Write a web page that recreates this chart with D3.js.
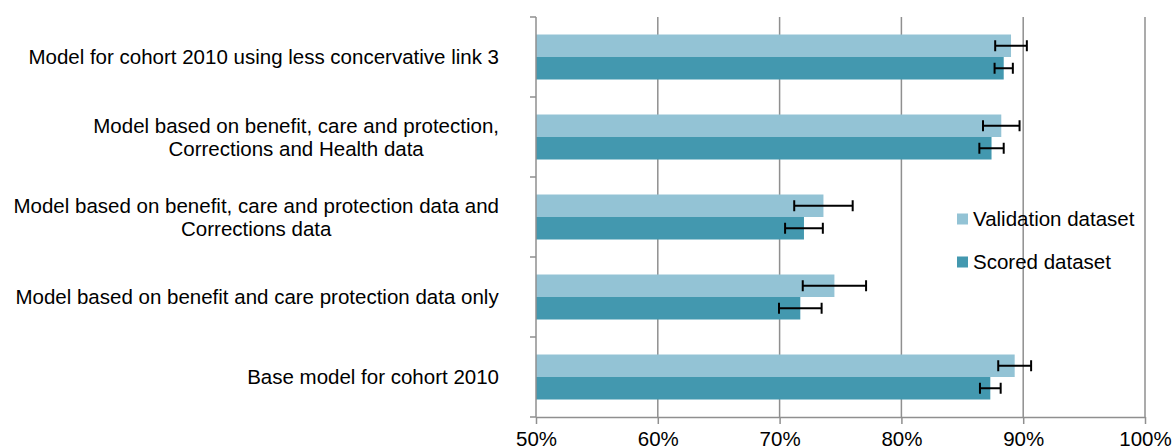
<!DOCTYPE html>
<html>
<head>
<meta charset="utf-8">
<script src="https://cdn.jsdelivr.net/npm/d3@7"></script>
<style>
  html, body { margin: 0; padding: 0; background: #fff; }
  svg { display: block; font-family: "Liberation Sans", Arial, sans-serif; }
</style>
</head>
<body>
<svg id="chart" width="1174" height="448"></svg>
<script>
// ---- data ----
const categories = [
  ["Model for cohort 2010 using less concervative link 3"],
  ["Model based on benefit, care and protection,", "Corrections and Health data"],
  ["Model based on benefit, care and protection data and", "Corrections data"],
  ["Model based on benefit and care protection data only"],
  ["Base model for cohort 2010"]
];
const seriesNames = ["Validation dataset", "Scored dataset"];
const validationValues = [89.0, 88.2, 73.6, 74.5, 89.3];
const validationErrors = [1.3, 1.5, 2.4, 2.6, 1.35];
const scoredValues = [88.4, 87.4, 72.0, 71.7, 87.3];
const scoredErrors = [0.75, 1.0, 1.55, 1.75, 0.85];
const xTicks = [50, 60, 70, 80, 90, 100];
const xTickLabels = ["50%", "60%", "70%", "80%", "90%", "100%"];

const colors = ["#93c3d5", "#4398af"];
const gridColor = "#8f8f8f";
const fontSize = 20.5;

const svg = d3.select("#chart");
const margin = { left: 536, right: 29, top: 17, bottom: 31 };
const W = 1174, H = 448;

const x = d3.scaleLinear().domain([50, 100]).range([margin.left, W - margin.right]);
const y = d3.scaleBand().domain(d3.range(categories.length))
  .range([margin.top, H - margin.bottom])
  .paddingInner(0.4375).paddingOuter(0.21875);
const ySub = d3.scaleBand().domain([0, 1]).range([0, y.bandwidth()]);

// gridlines
svg.append("g").selectAll("line").data(xTicks.slice(1)).join("line")
  .attr("x1", d => x(d)).attr("x2", d => x(d))
  .attr("y1", margin.top).attr("y2", H - margin.bottom)
  .attr("stroke", gridColor).attr("stroke-width", 1.5);

const rows = categories.map((c, i) => ({
  i,
  vals: [
    { s: 0, v: validationValues[i], e: validationErrors[i] },
    { s: 1, v: scoredValues[i], e: scoredErrors[i] }
  ]
}));

const g = svg.append("g");
const rowG = g.selectAll("g.row").data(rows).join("g")
  .attr("transform", d => `translate(0,${y(d.i)})`);

rowG.selectAll("rect").data(d => d.vals).join("rect")
  .attr("x", x(50))
  .attr("y", d => ySub(d.s))
  .attr("width", d => x(d.v) - x(50))
  .attr("height", ySub.bandwidth())
  .attr("fill", d => colors[d.s]);

// error bars
const eb = rowG.selectAll("g.err").data(d => d.vals).join("g").attr("class", "err");
eb.append("line")
  .attr("x1", d => x(d.v - d.e)).attr("x2", d => x(d.v + d.e))
  .attr("y1", d => ySub(d.s) + ySub.bandwidth() / 2)
  .attr("y2", d => ySub(d.s) + ySub.bandwidth() / 2)
  .attr("stroke", "#000").attr("stroke-width", 2);
[-1, 1].forEach(sign => {
  eb.append("line")
    .attr("x1", d => x(d.v + sign * d.e)).attr("x2", d => x(d.v + sign * d.e))
    .attr("y1", d => ySub(d.s) + ySub.bandwidth() / 2 - 5.5)
    .attr("y2", d => ySub(d.s) + ySub.bandwidth() / 2 + 5.5)
    .attr("stroke", "#000").attr("stroke-width", 2);
});

// x axis
const xAxis = d3.axisBottom(x).tickValues(xTicks)
  .tickFormat((d, i) => xTickLabels[i]).tickSize(7).tickSizeOuter(0).tickPadding(0);
const xg = svg.append("g").attr("transform", `translate(0,${H - margin.bottom})`).call(xAxis);
xg.select(".domain").attr("stroke", gridColor).attr("stroke-width", 1.5);
xg.selectAll(".tick line").attr("stroke", gridColor).attr("stroke-width", 1.5);
xg.selectAll(".tick text").attr("fill", "#000").attr("font-size", fontSize)
  .attr("font-family", "Liberation Sans, Arial, sans-serif")
  .attr("y", 28.5).attr("dy", 0);

// y axis line and ticks at category boundaries
svg.append("line")
  .attr("x1", x(50)).attr("x2", x(50))
  .attr("y1", margin.top).attr("y2", H - margin.bottom)
  .attr("stroke", gridColor).attr("stroke-width", 1.5);
const step = y.step();
const bounds = d3.range(categories.length + 1).map(i => y(0) - y.paddingInner() * step / 2 + i * step);
svg.append("g").selectAll("line").data(bounds).join("line")
  .attr("x1", x(50) - 6).attr("x2", x(50))
  .attr("y1", d => d).attr("y2", d => d)
  .attr("stroke", gridColor).attr("stroke-width", 1.5);

// category labels (center-aligned block, right edge fixed)
const labelRight = 499;
const lineH = 23;
categories.forEach((lines, i) => {
  const cy = y(i) + y.bandwidth() / 2;
  const t = svg.append("text")
    .attr("font-size", fontSize).attr("fill", "#000")
    .attr("text-anchor", "middle");
  lines.forEach((ln, j) => {
    t.append("tspan").attr("x", 0)
      .attr("y", cy + (j - (lines.length - 1) / 2) * lineH)
      .attr("dy", "0.35em").text(ln);
  });
  const bb = t.node().getBBox();
  t.attr("transform", `translate(${labelRight - bb.width / 2},0)`);
});

// legend
const legend = svg.append("g").attr("transform", "translate(957,219)");
seriesNames.forEach((name, i) => {
  const lg = legend.append("g").attr("transform", `translate(0,${i * 43})`);
  lg.append("rect").attr("x", 0).attr("y", -5.5).attr("width", 11).attr("height", 11).attr("fill", colors[i]);
  lg.append("text").attr("x", 16).attr("y", 0).attr("dy", "0.35em")
    .attr("font-size", fontSize).attr("fill", "#000").text(name);
});
</script>
</body>
</html>
